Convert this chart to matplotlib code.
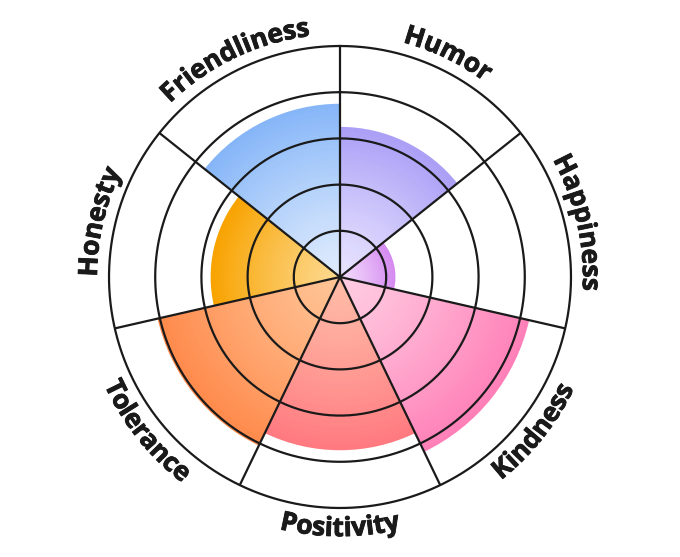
from matplotlib import pyplot as plt
from matplotlib.colors import to_rgb
import matplotlib.patheffects as pe
import numpy as np

# sectors, clockwise from the top
labels = ["Humor", "Happiness", "Kindness", "Positivity", "Tolerance", "Honesty", "Friendliness"]
values = [65, 24, 84, 75, 81, 56, 75]

# outer (saturated) and inner (light) colour of each sector
edge_colors = ["#ab9ff6", "#d58af0", "#ff80b8", "#ff7a80", "#ff8a4c", "#f8a300", "#86b6f8"]
center_colors = ["#e8e4ff", "#f3dcfc", "#ffcde2", "#ffbda8", "#ffc597", "#fdd98f", "#e0ecfd"]

ring_levels = [20, 40, 60, 80, 100]

fig = plt.figure(figsize=(6.8, 5.57), dpi=100)
ax = fig.add_axes([0.1603, 0.088, 0.6794, 0.8294], projection="polar")
ax.set_theta_zero_location("N")
ax.set_theta_direction(-1)
ax.set_ylim(0, 100)
ax.axis("off")

n = len(labels)
width = 2 * np.pi / n
theta_mid = (np.arange(n) + 0.5) * width

# gradient fill: stack of bars from the outside in
steps = 60
for i in range(n):
    c_out = np.array(to_rgb(edge_colors[i]))
    c_in = np.array(to_rgb(center_colors[i]))
    for k in range(steps):
        frac = 1 - k / steps
        col = c_in + (c_out - c_in) * frac ** 1.2
        ax.bar(theta_mid[i], values[i] * frac, width=width, bottom=0,
               color=col, linewidth=0, zorder=1)

# grid
line_col = "#1a1a1a"
t = np.linspace(0, 2 * np.pi, 400)
for r in ring_levels:
    ax.plot(t, np.full_like(t, r), color=line_col, lw=1.6, zorder=3, clip_on=False)
for i in range(n):
    ax.plot([i * width, i * width], [0, 100], color=line_col, lw=1.6, zorder=3,
            clip_on=False, solid_capstyle="butt")

# curved labels, one character at a time
fig.canvas.draw()
renderer = fig.canvas.get_renderer()
px_per_unit = abs(ax.transData.transform((0, 100))[1] - ax.transData.transform((0, 0))[1]) / 100
font = dict(family=["Open Sans", "DejaVu Sans"], fontsize=19, fontweight="bold", color="#1a1a1a")
stroke = [pe.withStroke(linewidth=0.6, foreground="#1a1a1a")]


def text_width(s):
    if not s:
        return 0.0
    tt = fig.text(0, 0, s, **font)
    w = tt.get_window_extent(renderer).width
    tt.remove()
    return w


top_base_r = 105.2     # baseline radius, letters pointing outwards
bottom_base_r = 112.2  # baseline radius, letters pointing inwards
for i, lab in enumerate(labels):
    mid = theta_mid[i]
    bottom_half = np.pi / 2 < mid < 3 * np.pi / 2
    total = text_width(lab)
    base_r = bottom_base_r if bottom_half else top_base_r
    r_px = base_r * px_per_unit
    for j, ch in enumerate(lab):
        s = (text_width(lab[:j]) + text_width(lab[:j + 1])) / 2 - total / 2
        if bottom_half:
            ang = mid - s / r_px
            rot = 180 - np.degrees(ang)
        else:
            ang = mid + s / r_px
            rot = -np.degrees(ang)
        ax.text(ang, base_r, ch, rotation=rot, rotation_mode="anchor",
                ha="center", va="baseline", clip_on=False, path_effects=stroke, **font)

plt.savefig("out.png", dpi=100)
